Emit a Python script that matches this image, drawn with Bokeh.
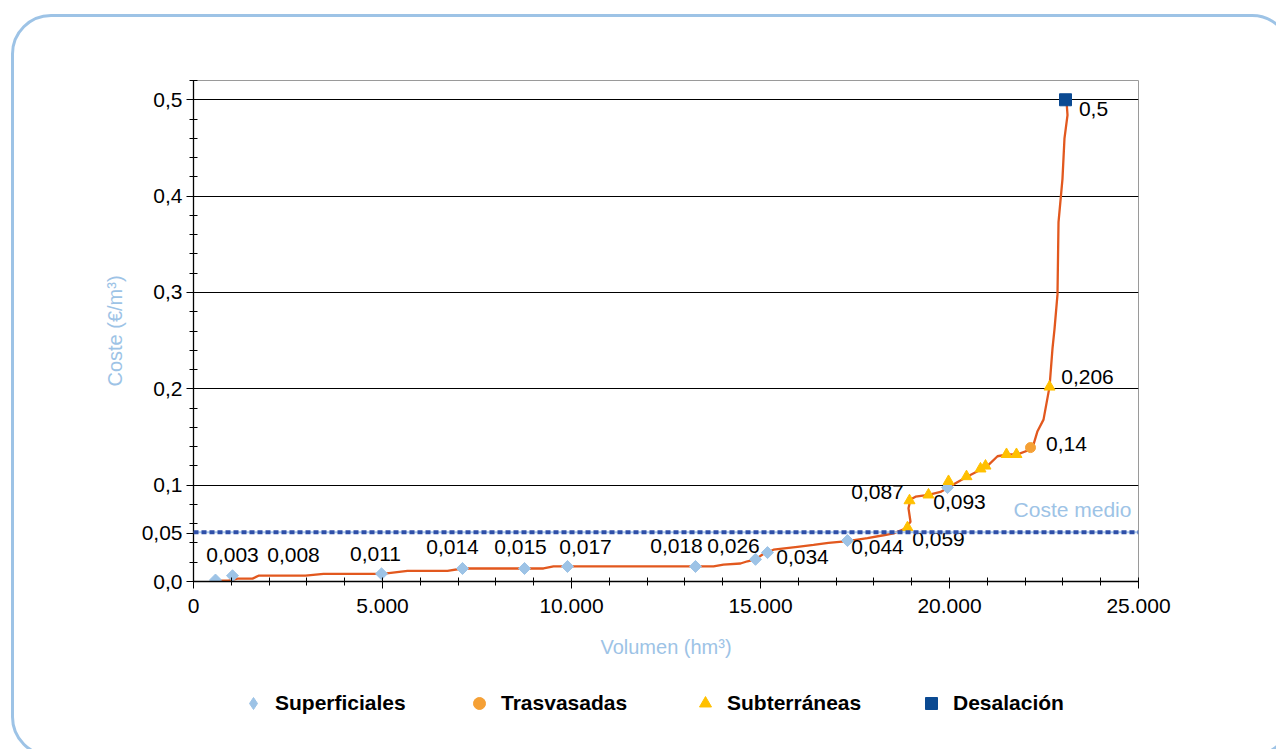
import math
from bokeh.plotting import figure
from bokeh.layouts import column
from bokeh.models import (FixedTicker, Span, Legend, LegendItem, Range1d)
from bokeh.core.properties import value
from bokeh.embed import file_html
from bokeh.resources import INLINE

# ---- data ----
curve_vol = [582, 926, 1164, 1561, 1720, 2963, 3439, 5000, 5661, 6720, 7116, 9259, 9524,
             13757, 14021, 14471, 14656, 14868, 15053, 15185, 15344, 15979, 16402, 16799,
             17302, 17831, 18254, 18519, 18836, 18968, 18915, 18968, 19101, 19444, 19762,
             19974, 20159, 20476, 20820, 21005, 21270, 21534, 21799, 22143, 22222, 22328,
             22487, 22646, 22725, 22778, 22857, 22884, 22989, 23042, 23122, 23095]
curve_cost = [0.001, 0.001, 0.003, 0.003, 0.006, 0.006, 0.008, 0.008, 0.011, 0.011, 0.0135,
              0.0135, 0.0156, 0.0156, 0.0176, 0.0187, 0.021, 0.023, 0.028, 0.030, 0.033,
              0.036, 0.038, 0.040, 0.042, 0.045, 0.048, 0.050, 0.055, 0.062, 0.076, 0.085,
              0.088, 0.090, 0.093, 0.0975, 0.102, 0.109, 0.116, 0.120, 0.130, 0.132, 0.132,
              0.137, 0.142, 0.156, 0.168, 0.202, 0.242, 0.262, 0.298, 0.373, 0.418, 0.460,
              0.484, 0.499]

sup_vol = [582, 1032, 4974, 7116, 8757, 9894, 13280, 14868, 15185, 17302, 19947]
sup_cost = [0.0015, 0.006, 0.008, 0.0135, 0.0135, 0.0156, 0.0156, 0.023, 0.030, 0.0425, 0.0975]

tra_vol = [22143]
tra_cost = [0.139]

sub_vol = [18889, 18942, 19444, 19974, 20450, 20820, 20952, 21508, 21772, 22646]
sub_cost = [0.056, 0.084, 0.090, 0.104, 0.109, 0.117, 0.120, 0.132, 0.132, 0.202]

des_vol = [23069]
des_cost = [0.5]

label_texts = ["0,003", "0,008", "0,011", "0,014", "0,015", "0,017", "0,018", "0,026",
               "0,034", "0,044", "0,059", "0,087", "0,093", "0,14", "0,206", "0,5"]
label_vol = [1032, 2646, 4815, 6852, 8651, 10370, 12778, 14286, 16111, 18095, 19709,
             18095, 20265, 23095, 23651, 23810]
label_cost = [0.027, 0.027, 0.029, 0.036, 0.036, 0.036, 0.037, 0.037, 0.025, 0.036, 0.044,
              0.093, 0.082, 0.143, 0.212, 0.490]

coste_medio = 0.051
coste_medio_text = "Coste medio"
coste_medio_pos = (23254, 0.075)

x_ticks = [0, 5000, 10000, 15000, 20000, 25000]
x_tick_labels = ["0", "5.000", "10.000", "15.000", "20.000", "25.000"]
y_ticks = [0.0, 0.05, 0.1, 0.2, 0.3, 0.4, 0.5]
y_tick_labels = ["0,0", "0,05", "0,1", "0,2", "0,3", "0,4", "0,5"]

series_names = ["Superficiales", "Trasvasadas", "Subterráneas", "Desalación"]
series_markers = ["diamond", "circle", "triangle", "square"]
series_colors = ["#9DC3E6", "#F5A035", "#FFC000", "#0B4A92"]
series_vol = [sup_vol, tra_vol, sub_vol, des_vol]
series_cost = [sup_cost, tra_cost, sub_cost, des_cost]

FONT = "Liberation Sans"

frame_css = """
:host { position: relative; overflow: hidden; }
:host::after {
  content: "";
  position: absolute;
  left: 11px; top: 14px; width: 1281px; height: 743px;
  box-sizing: border-box;
  border: 3px solid #9DC3E6;
  border-radius: 40px;
  pointer-events: none;
  z-index: 10;
}
"""

p = figure(width=1276, height=672, output_backend="svg", toolbar_location=None,
           x_range=Range1d(0, 25000), y_range=Range1d(0, 0.52),
           min_border_left=193, min_border_right=138, min_border_top=80, min_border_bottom=91,
           background_fill_color="white", border_fill_color="white")
p.outline_line_color = "#9a9a9a"
p.outline_line_width = 1

# axes
p.xaxis.ticker = FixedTicker(ticks=x_ticks, minor_ticks=list(range(0, 25001, 1000)))
p.xaxis.major_label_overrides = dict(zip(x_ticks, x_tick_labels))
p.yaxis.ticker = FixedTicker(ticks=y_ticks, minor_ticks=[round(0.02 * i, 2) for i in range(27)])
p.yaxis.major_label_overrides = dict(zip(y_ticks, y_tick_labels))
for ax in (p.xaxis[0], p.yaxis[0]):
    ax.axis_line_color = "black"
    ax.axis_line_width = 1.3
    ax.major_tick_line_color = "black"
    ax.minor_tick_line_color = "black"
    ax.major_tick_out = 7
    ax.major_tick_in = 0
    ax.minor_tick_out = 4
    ax.minor_tick_in = 4
    ax.major_label_text_font = FONT
    ax.major_label_text_font_size = "21px"
    ax.major_label_text_color = "black"
    ax.axis_label_text_font = FONT
    ax.axis_label_text_font_size = "20px"
    ax.axis_label_text_font_style = "normal"
    ax.axis_label_text_color = "#9DC3E6"
p.xaxis.axis_label = "Volumen (hm³)"
p.yaxis.axis_label = "Coste (€/m³)"
p.xaxis.major_label_standoff = 10
p.yaxis.major_label_standoff = 4
p.xaxis.axis_label_standoff = 20
p.yaxis.axis_label_standoff = 13

p.xgrid.visible = False
p.ygrid.ticker = FixedTicker(ticks=[0.1, 0.2, 0.3, 0.4, 0.5])
p.ygrid.grid_line_color = "black"
p.ygrid.grid_line_width = 1

# coste medio line
p.add_layout(Span(location=coste_medio, dimension="width", line_color="#A9C8EB", line_width=2))
p.add_layout(Span(location=coste_medio, dimension="width", line_color="#2F4FA8",
                  line_width=4, line_dash="5 3"))

# main curve
p.line(curve_vol, curve_cost, line_color="#E2581E", line_width=2.3)

p.scatter(sup_vol, sup_cost, marker="square", angle=math.pi / 4, size=8.5, color=series_colors[0])
p.scatter(tra_vol, tra_cost, marker="circle", size=10, color=series_colors[1])
p.scatter(sub_vol, sub_cost, marker="triangle", size=11, color=series_colors[2])
p.scatter(des_vol, des_cost, marker="square", size=12, color=series_colors[3])

p.text(x=label_vol, y=label_cost, text=label_texts, text_font=value(FONT),
       text_font_size="21px", text_align="center", text_baseline="middle", text_color="black")
p.text(x=[coste_medio_pos[0]], y=[coste_medio_pos[1]], text=[coste_medio_text],
       text_font=value(FONT), text_font_size="21px", text_align="center",
       text_baseline="middle", text_color="#9DC3E6")

# legend strip below the chart (same series, viewed through an empty window)
pl = figure(width=1276, height=77, output_backend="svg", toolbar_location=None,
            x_range=p.x_range, y_range=Range1d(-2, -1),
            x_axis_type=None, y_axis_type=None, min_border=0,
            background_fill_color="white", border_fill_color="white")
pl.outline_line_color = None
pl.xgrid.visible = False
pl.ygrid.visible = False
leg_renderers = [pl.scatter(xs, ys, marker=m, color=c)
                 for xs, ys, m, c in zip(series_vol, series_cost, series_markers, series_colors)]
legend = Legend(items=[LegendItem(label=n, renderers=[r]) for n, r in
                       zip(series_names, leg_renderers)],
                location=(45, 31), orientation="horizontal",
                glyph_width=30, glyph_height=30, label_standoff=7, label_width=152,
                spacing=37, padding=5, margin=0, border_line_color=None,
                background_fill_alpha=0, label_text_font=FONT,
                label_text_font_style="bold", label_text_font_size="21px",
                label_text_color="black")
pl.add_layout(legend)

layout = column(p, pl, spacing=0, stylesheets=[frame_css])

open("out.html", "w").write(file_html(layout, INLINE))
